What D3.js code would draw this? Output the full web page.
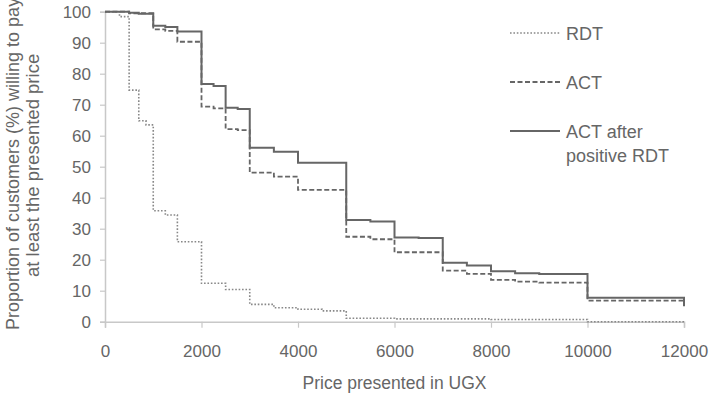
<!DOCTYPE html>
<html>
<head>
<meta charset="utf-8">
<script src="https://cdn.jsdelivr.net/npm/d3@7"></script>
<style>
  body { margin: 0; background: #fff; }
  text { font-family: "Liberation Sans", Arial, sans-serif; fill: #666; }
</style>
</head>
<body>
<div id="chart"></div>
<script>
// price breakpoints (UGX), each value holds until the next price
var prices = [0, 300, 500, 700, 850, 1000, 1250, 1500, 2000, 2250, 2500, 2750, 3000, 3500,
              4000, 4500, 5000, 5500, 6000, 6500, 7000, 7500, 8000, 8500, 9000, 10000, 12000];
var rdt = [100, 98.4, 74.7, 64.8, 63.5, 35.8, 34.4, 25.8, 12.4, 12.4, 10.4, 10.4, 5.6, 4.5,
           4.0, 3.5, 1.1, 1.1, 0.9, 0.9, 0.9, 0.9, 0.7, 0.7, 0.7, 0, 0];
var act = [100, 100, 99.5, 99.5, 99.5, 94.3, 93.8, 90.3, 69.4, 68.8, 62.1, 61.8, 48.1, 46.8,
           42.5, 42.5, 27.4, 26.6, 22.4, 22.4, 16.5, 15.4, 13.5, 12.9, 12.6, 6.8, 6.8];
var actPos = [100, 100, 99.7, 99.3, 99.3, 95.5, 95.1, 93.6, 76.7, 76.0, 69.0, 68.6, 56.1, 54.8,
              51.3, 51.3, 32.8, 32.3, 27.2, 27.0, 19.0, 18.1, 16.3, 15.6, 15.4, 7.7, 5.0];
var seriesNames = ["RDT", "ACT", "ACT after positive RDT"];
var xTicks = [0, 2000, 4000, 6000, 8000, 10000, 12000];
var yTicks = [0, 10, 20, 30, 40, 50, 60, 70, 80, 90, 100];

var width = 720, height = 400;
var svg = d3.select("#chart").append("svg")
  .attr("width", width)
  .attr("height", height);

var x = d3.scaleLinear().domain([0, 12000]).range([105, 684]);
var y = d3.scaleLinear().domain([0, 100]).range([321.7, 11.7]);

// axes
var xAxis = svg.append("g")
  .attr("transform", "translate(0," + y(0) + ")")
  .call(d3.axisBottom(x).tickValues(xTicks).tickSize(6).tickPadding(17).tickFormat(d3.format("d")));
var yAxis = svg.append("g")
  .attr("transform", "translate(" + x(0) + ",0)")
  .call(d3.axisLeft(y).tickValues(yTicks).tickSize(5).tickPadding(9));

[xAxis, yAxis].forEach(function(g) {
  g.select(".domain").attr("stroke", "#c8c8c8").attr("stroke-width", 1.5);
  g.selectAll(".tick line").attr("stroke", "#c8c8c8").attr("stroke-width", 1.2);
  g.selectAll(".tick text").attr("fill", "#666").style("font-size", "17px")
    .style("font-family", "Liberation Sans, Arial, sans-serif");
});

// axis titles
svg.append("text")
  .attr("x", (x(0) + x(12000)) / 2)
  .attr("y", 389)
  .attr("text-anchor", "middle")
  .style("font-size", "17.5px")
  .text("Price presented in UGX");

// the first line runs off the top edge in the original too
svg.append("text")
  .attr("transform", "translate(19,330) rotate(-90)")
  .style("font-size", "18px")
  .text("Proportion of customers (%) willing to pay");
svg.append("text")
  .attr("transform", "translate(39,277) rotate(-90)")
  .style("font-size", "18.5px")
  .text("at least the presented price");

// step lines
var styles = [
  {data: rdt, color: "#888", w: 1.6, dash: "1.6,1.8"},
  {data: act, color: "#666", w: 1.8, dash: "5,2.5"},
  {data: actPos, color: "#666", w: 2, dash: null}
];

var line = d3.line()
  .x(function(d) { return x(d[0]); })
  .y(function(d) { return y(d[1]); })
  .curve(d3.curveStepAfter);

styles.forEach(function(s) {
  var pts = prices.map(function(p, i) { return [p, s.data[i]]; });
  svg.append("path")
    .datum(pts)
    .attr("fill", "none")
    .attr("stroke", s.color)
    .attr("stroke-width", s.w)
    .attr("stroke-dasharray", s.dash)
    .attr("d", line);
});

// legend
var legY = [33, 82, 131];
styles.forEach(function(s, i) {
  svg.append("line")
    .attr("x1", 510).attr("x2", 560)
    .attr("y1", legY[i]).attr("y2", legY[i])
    .attr("stroke", s.color)
    .attr("stroke-width", s.w)
    .attr("stroke-dasharray", s.dash);
});
svg.append("text").attr("x", 566).attr("y", legY[0] + 6.5).style("font-size", "18px").text(seriesNames[0]);
svg.append("text").attr("x", 566).attr("y", legY[1] + 6.5).style("font-size", "18px").text(seriesNames[1]);
var t3 = svg.append("text").attr("x", 566).attr("y", legY[2] + 6.5).style("font-size", "18px");
t3.append("tspan").attr("x", 566).text("ACT after");
t3.append("tspan").attr("x", 566).attr("dy", 24).text("positive RDT");
</script>
</body>
</html>
